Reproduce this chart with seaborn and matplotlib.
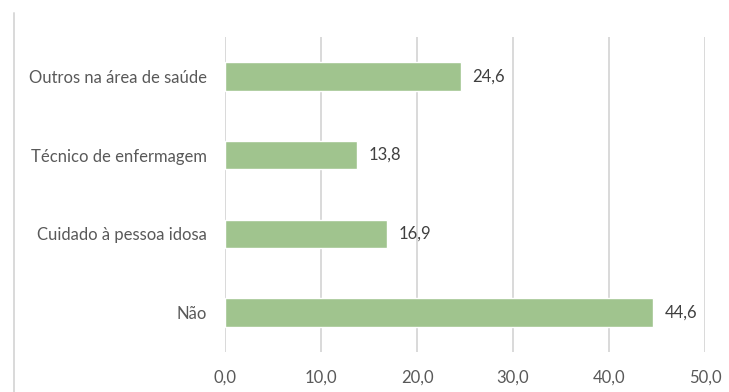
import matplotlib
matplotlib.use("Agg")
import matplotlib.pyplot as plt
import seaborn as sns
import pandas as pd
from matplotlib.lines import Line2D

categories = ["Outros na área de saúde", "Técnico de enfermagem", "Cuidado à pessoa idosa", "Não"]
values = [24.6, 13.8, 16.9, 44.6]
xticks = [0, 10, 20, 30, 40, 50]
xtick_labels = ["0,0", "10,0", "20,0", "30,0", "40,0", "50,0"]

sns.set_theme(style="white")
plt.rcParams['font.family'] = ['Lato', 'DejaVu Sans']

df = pd.DataFrame({"cat": categories, "val": values})

fig = plt.figure(figsize=(7.29, 3.92), dpi=100)
ax = fig.add_axes([225/729, 1-352/392, (705-225)/729, (352-37)/392])
sns.barplot(data=df, y="cat", x="val", orient="h", color="#A0C48E", width=0.36,
            saturation=1, ax=ax, zorder=3)
ax.set_xlim(0, 50)
ax.set_ylim(3.5, -0.5)
ax.set_xticks(xticks)
ax.set_xticklabels(xtick_labels)
ax.set_xlabel("")
ax.set_ylabel("")
ax.grid(axis="x", color="#d9d9d9", linewidth=1.4, zorder=0)
ax.set_axisbelow(True)
for s in ax.spines.values():
    s.set_visible(False)
ax.tick_params(axis="both", length=0, labelsize=12, labelcolor="#595959")
ax.tick_params(axis="x", pad=13)
ax.tick_params(axis="y", pad=13)
for i, v in enumerate(values):
    ax.text(v + 1.2, i, f"{v:.1f}".replace(".", ","), va="center", ha="left",
            fontsize=12, color="#404040")

fig.add_artist(Line2D([14/729, 14/729], [0, 1-13/392], transform=fig.transFigure,
                      color="#d9d9d9", linewidth=1.4))
fig.savefig("out.png", dpi=100)
